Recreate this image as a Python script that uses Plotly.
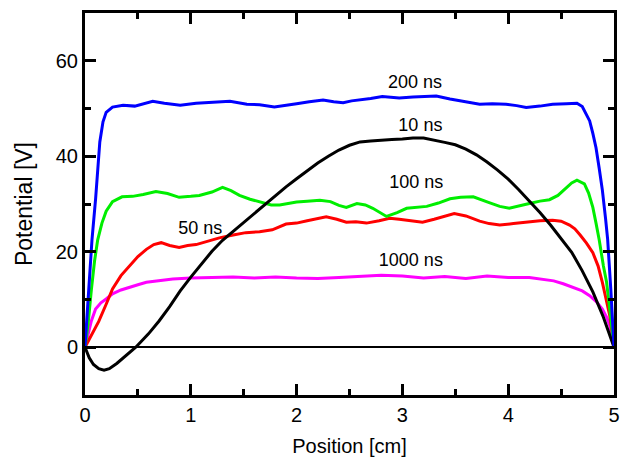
import plotly.graph_objects as go

# ---- data ----
x_200 = [0, 0.02, 0.04, 0.066, 0.1, 0.12, 0.14, 0.17, 0.2, 0.26, 0.36, 0.47, 0.55, 0.64, 0.75, 0.9, 1.05, 1.2, 1.37,
         1.53, 1.65, 1.79, 1.9, 2.0, 2.12, 2.25, 2.35, 2.44, 2.52, 2.6, 2.7, 2.81, 2.97, 3.1, 3.2, 3.32, 3.45, 3.54,
         3.63, 3.73, 3.85, 3.98, 4.08, 4.17, 4.3, 4.42, 4.55, 4.65, 4.7, 4.74, 4.77, 4.8, 4.83, 4.86, 4.89, 4.92,
         4.94, 4.97, 5.0]
y_200 = [0, 7, 14, 22.5, 31, 37, 43, 47.2, 49.2, 50.3, 50.7, 50.5, 51.0, 51.5, 51.1, 50.7, 51.1, 51.3, 51.5,
         50.9, 50.8, 50.3, 50.6, 51.0, 51.4, 51.8, 51.4, 51.2, 51.6, 51.8, 52.1, 52.5, 52.2, 52.4, 52.5, 52.6, 52.0, 51.6,
         51.3, 50.9, 51.0, 50.9, 50.6, 50.2, 50.5, 50.9, 51.0, 51.1, 50.4, 48.8, 47.4, 44.8, 41.8, 37.5, 32.9, 27.0,
         22.6, 12.0, 0]

x_10 = [0, 0.04, 0.08, 0.13, 0.18, 0.23, 0.3, 0.38, 0.48, 0.6, 0.7, 0.8, 0.9, 1.0, 1.1, 1.2, 1.3, 1.4, 1.5, 1.6,
        1.7, 1.8, 1.9, 2.0, 2.1, 2.2, 2.3, 2.4, 2.5, 2.6, 2.7, 2.8, 2.9, 3.0, 3.1, 3.2, 3.3, 3.4, 3.5, 3.6, 3.7,
        3.8, 3.9, 4.0, 4.1, 4.2, 4.3, 4.4, 4.5, 4.6, 4.7, 4.8, 4.9, 5.0]
y_10 = [0, -2.2, -3.6, -4.5, -4.8, -4.5, -3.4, -1.8, 0, 2.8, 5.5, 8.5, 11.8, 14.7, 17.5, 20.1, 22.4, 24.3, 26.2, 28.1,
        30.0, 31.8, 33.6, 35.3, 37.0, 38.6, 40.0, 41.3, 42.3, 43.0, 43.2, 43.4, 43.5, 43.6, 43.8, 43.8, 43.4, 42.9, 42.4,
        41.5, 40.3, 38.8, 37.1, 35.2, 33.0, 30.7, 28.2, 25.6, 22.8, 19.9, 16.0, 11.6, 6.3, 0]

x_100 = [0, 0.03, 0.06, 0.09, 0.12, 0.16, 0.2, 0.26, 0.35, 0.45, 0.55, 0.67, 0.78, 0.89, 1.0, 1.08, 1.2, 1.3, 1.38,
         1.46, 1.56, 1.68, 1.76, 1.84, 1.92, 2.0, 2.1, 2.22, 2.32, 2.4, 2.47, 2.57, 2.65, 2.72, 2.85, 2.95, 3.04, 3.13,
         3.23, 3.34, 3.45, 3.55, 3.67, 3.82, 3.92, 4.01, 4.1, 4.2, 4.3, 4.39, 4.47, 4.55, 4.6, 4.65, 4.72, 4.76, 4.8,
         4.83, 4.86, 4.9, 4.93, 4.97, 5.0]
y_100 = [0, 5, 12, 18, 22.5, 26, 28.5, 30.5, 31.5, 31.6, 32.0, 32.6, 32.2, 31.4, 31.6, 31.8, 32.5, 33.5, 32.8,
         31.8, 31.0, 30.2, 29.8, 29.8, 30.1, 30.4, 30.6, 30.8, 30.5, 29.7, 29.3, 30.1, 29.8, 29.1, 27.4, 28.2, 29.1, 29.3,
         29.5, 30.2, 31.1, 31.4, 31.5, 30.3, 29.5, 29.1, 29.5, 30.1, 30.6, 30.9, 31.8, 33.4, 34.4, 35.0, 34.2, 32.3, 29.3,
         26.0, 22.5, 17.0, 13.6, 6.0, 0]

x_50 = [0, 0.05, 0.13, 0.2, 0.26, 0.34, 0.42, 0.5, 0.58, 0.65, 0.72, 0.8, 0.89, 0.97, 1.05, 1.15, 1.27, 1.4, 1.52,
        1.65, 1.77, 1.9, 2.0, 2.1, 2.2, 2.28, 2.38, 2.47, 2.56, 2.66, 2.78, 2.88, 2.97, 3.04, 3.12, 3.19, 3.3, 3.4,
        3.49, 3.6, 3.73, 3.82, 3.92, 4.05, 4.17, 4.3, 4.42, 4.5, 4.58, 4.63, 4.68, 4.74, 4.8, 4.85, 4.89, 4.93,
        4.96, 5.0]
y_50 = [0, 2, 5.4, 9, 12.2, 15, 17, 19, 20.5, 21.5, 21.9, 21.3, 20.9, 21.3, 21.5, 22.2, 22.9, 23.5, 24.0,
        24.2, 24.6, 25.8, 26.0, 26.5, 27.0, 27.3, 26.8, 26.2, 26.3, 26.0, 26.5, 27.0, 26.8, 26.6, 26.4, 26.2, 26.8, 27.5,
        28.0, 27.5, 26.4, 25.9, 25.6, 25.9, 26.2, 26.5, 26.6, 26.4, 25.6, 24.8, 23.5, 21.8, 19.8, 17.0, 13.6, 9.8,
        6.6, 0]

x_1000 = [0, 0.03, 0.06, 0.1, 0.15, 0.2, 0.26, 0.34, 0.42, 0.5, 0.58, 0.7, 0.83, 1.0, 1.2, 1.4, 1.6, 1.8, 2.0,
          2.2, 2.4, 2.6, 2.8, 3.0, 3.2, 3.4, 3.6, 3.8, 4.0, 4.2, 4.35, 4.43, 4.52, 4.61, 4.7, 4.77, 4.83, 4.89,
          4.93, 4.96, 5.0]
y_1000 = [0, 3, 5.5, 8, 9.3, 10.1, 11.2, 12.0, 12.6, 13.1, 13.6, 14.0, 14.3, 14.5, 14.6, 14.7, 14.5, 14.7, 14.5,
          14.4, 14.6, 14.9, 15.1, 14.9, 14.5, 14.8, 14.4, 14.9, 14.6, 14.6, 14.2, 13.9, 13.3, 12.6, 11.8, 10.8, 9.6, 8.0,
          6.3, 4.5, 0]

series = [
    ("1000 ns", x_1000, y_1000, "#FF00FF"),
    ("50 ns", x_50, y_50, "#FF0000"),
    ("100 ns", x_100, y_100, "#00EE00"),
    ("10 ns", x_10, y_10, "#000000"),
    ("200 ns", x_200, y_200, "#0000FF"),
]

# label text and anchor positions (data coords)
label_text = ["200 ns", "10 ns", "100 ns", "50 ns", "1000 ns"]
label_x = [3.12, 3.17, 3.13, 1.09, 3.08]
label_y = [55.3, 46.2, 34.2, 24.7, 17.9]

Y_MIN, Y_MAX = -10, 70
FONT = "Arial"

fig = go.Figure()
for name, xs, ys, col in series:
    fig.add_trace(go.Scatter(x=xs, y=ys, mode="lines", name=name,
                             line=dict(color=col, width=3), showlegend=False))

# curve labels as a text trace
fig.add_trace(go.Scatter(x=label_x, y=label_y, mode="text", text=label_text, textposition="middle center",
                         textfont=dict(family=FONT, size=18, color="black"), showlegend=False))

# transparent copy on an extra x axis whose line is placed at y = 0 (the zero line)
fig.add_trace(go.Scatter(x=x_10, y=y_10, mode="lines", xaxis="x2", line=dict(color="rgba(0,0,0,0)", width=0),
                         showlegend=False, hoverinfo="skip"))

fig.update_xaxes(range=[0, 5], dtick=1, showline=True, linecolor="black", linewidth=3, mirror="ticks",
                 ticks="inside", ticklen=11, tickwidth=2.5, tickcolor="black", showgrid=False, zeroline=False,
                 minor=dict(dtick=0.5, ticks="inside", ticklen=6, tickcolor="black"),
                 tickfont=dict(family=FONT, size=20, color="black"),
                 title=dict(text="Position [cm]", font=dict(family=FONT, size=20, color="black"), standoff=14),
                 selector=dict(overlaying=None))
fig.update_yaxes(range=[Y_MIN, Y_MAX], dtick=20, showline=True, linecolor="black", linewidth=3, mirror="ticks",
                 ticks="inside", ticklen=11, tickwidth=2.5, tickcolor="black", showgrid=False, zeroline=False,
                 minor=dict(dtick=10, ticks="inside", ticklen=6, tickcolor="black"),
                 tickfont=dict(family=FONT, size=20, color="black"),
                 title=dict(text="Potential [V]", font=dict(family=FONT, size=23, color="black"), standoff=17))

fig.update_layout(
    xaxis2=dict(overlaying="x", anchor="free", position=(0 - Y_MIN) / (Y_MAX - Y_MIN), range=[0, 5],
                showline=True, linecolor="black", linewidth=2, ticks="", showticklabels=False,
                showgrid=False, zeroline=False),
    width=633, height=464,
    margin=dict(l=85, r=18.5, t=9.5, b=66.5),
    paper_bgcolor="white", plot_bgcolor="white",
)

fig.write_html("out.html")
